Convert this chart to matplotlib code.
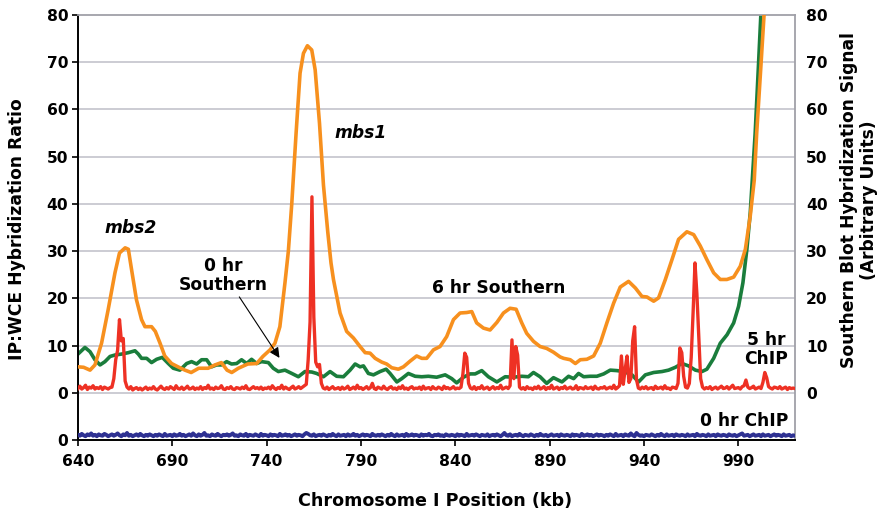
import numpy as np
import matplotlib
matplotlib.use('Agg')
import matplotlib.pyplot as plt

# x positions (kb)
orange_kb = [640, 643, 646.4, 649, 652.5, 656, 659.6, 662, 665, 666.7, 668.4, 671, 673.7,
             675.5, 679, 681, 683.5, 686, 689.6, 693, 696.7, 700, 704, 709, 712.6, 716, 719,
             721.5, 725, 730, 734.7, 738, 741.8, 744.4, 747, 749.7, 751.5, 753.3, 755.6, 757.7,
             759.5, 761.6, 763.9, 765.7, 768, 770.1, 772.4, 774.1, 775.4, 778.9, 782.4, 786,
             789.5, 792.2, 794.8, 797.5, 801, 803.6, 806.3, 809.8, 812.5, 816, 819.5, 822.2,
             824.8, 828.4, 831.9, 835.4, 839, 842.5, 846, 848.7, 851.3, 854.9, 858.4, 862,
             865.5, 869, 872.2, 875.2, 877.8, 881.4, 884.9, 888.4, 892, 895.5, 897.4, 900.9,
             903.6, 906.2, 909.7, 913.3, 916.8, 920.3, 923.9, 927.4, 931.8, 935.4, 938.9,
             941.5, 945.1, 947.7, 951.3, 954.8, 958.3, 962.7, 966.3, 969.8, 973.3, 976.9,
             980.4, 983.9, 987.5, 991, 993.7, 996.3, 998.4, 999.7, 1001.9, 1003.6, 1005.5]
orange_val = [5.5, 5.4, 4.8, 5.9, 10.5, 17.6, 25.4, 29.6, 30.7, 30.4, 26.1, 19.7, 15.5,
              14.0, 14.0, 13.0, 10.5, 7.8, 6.2, 5.5, 4.8, 4.3, 5.2, 5.2, 5.9, 6.4, 4.8,
              4.3, 5.2, 6.1, 6.2, 7.7, 9.1, 10.5, 14.0, 23.3, 30.0, 40.0, 55.0, 67.7,
              71.9, 73.5, 72.6, 68.4, 57.1, 44.0, 34.0, 27.5, 24.0, 16.9, 13.0, 11.6,
              9.8, 8.5, 8.4, 7.3, 6.5, 6.1, 5.3, 5.0, 5.5, 6.7, 7.8, 7.3,
              7.3, 9.1, 9.8, 11.9, 15.5, 16.9, 17.0, 17.2, 14.8, 13.7, 13.3, 14.9,
              16.9, 17.9, 17.7, 14.8, 12.6, 10.9, 9.8, 9.4, 8.6, 7.6, 7.3, 7.0,
              6.2, 7.0, 7.1, 7.8, 10.5, 14.8, 19.0, 22.4, 23.6, 22.2, 20.4,
              20.3, 19.4, 20.1, 24.0, 28.2, 32.5, 34.1, 33.5, 31.1, 28.2, 25.4,
              24.0, 24.0, 24.5, 26.8, 30.4, 37.5, 45.0, 55.0, 69.0, 80.0, 95.0]

green_kb = [640, 643.7, 646.4, 649, 651.7, 654.3, 657, 659.6, 663.1, 666.7, 670.2, 672, 673.7,
            676.4, 679, 681.7, 684.7, 687.9, 690.5, 694, 697.6, 700.2, 702.9, 705.5, 708.2,
            710.8, 713.5, 716.1, 718.8, 721.4, 724.1, 726.7, 729.4, 732, 734.7, 737.3, 740.9,
            743.5, 746.2, 749.7, 753.3, 756.8, 760.3, 763.9, 766.5, 770.1, 773.6, 777.1,
            780.7, 784.2, 786.9, 789.5, 791.3, 793.9, 796.6, 800.1, 803.3, 805.4, 809,
            811.6, 815.1, 818.7, 822.2, 825.7, 830.1, 834.6, 838.1, 840.7, 844.3, 847.8,
            850.5, 854, 857.5, 862, 866.4, 870.8, 875.2, 878.7, 881.4, 884.9, 888.4, 892,
            896.5, 900, 902.7, 905.3, 908, 911.5, 915, 918.6, 922.1, 925.6, 929.2, 933.6,
            937.1, 940.7, 945.1, 949.5, 953, 956.6, 960.1, 963.6, 967.2, 970.7, 973.3,
            976.9, 980.4, 984, 987.5, 990.1, 992.4, 994.5, 996.3, 998.9, 1000.6, 1001.9, 1003.5]
green_val = [8.2, 9.6, 8.7, 7.0, 5.9, 6.6, 7.7, 8.0, 8.2, 8.5, 8.9, 8.2, 7.3,
             7.3, 6.4, 7.1, 7.5, 6.2, 5.2, 4.8, 6.2, 6.6, 6.1, 7.0, 7.0,
             5.5, 5.9, 5.9, 6.6, 6.1, 6.2, 7.0, 6.2, 7.1, 6.2, 6.6, 6.4,
             5.2, 4.5, 4.8, 4.1, 3.4, 4.5, 4.4, 4.1, 3.4, 4.5, 3.5,
             3.4, 4.8, 6.1, 5.5, 5.7, 4.1, 3.8, 4.5, 5.0, 4.1, 2.3,
             3.0, 4.1, 3.5, 3.4, 3.5, 3.3, 3.8, 3.0, 2.1, 3.3, 4.0,
             4.0, 4.7, 3.4, 2.3, 3.4, 3.3, 3.5, 3.4, 4.3, 3.4, 2.0, 3.2,
             2.3, 3.5, 3.0, 4.1, 3.4, 3.5, 3.5, 4.0, 4.8, 4.7, 4.5, 3.8,
             2.3, 3.8, 4.3, 4.5, 4.8, 5.4, 6.2, 5.7, 4.8, 4.5, 5.0,
             7.3, 10.5, 12.3, 14.8, 18.3, 23.3, 30.4, 38.2, 55.0, 69.0, 80.0, 95.0]

# 5 hr ChIP, one value per kb from 640 to 1020
chip5 = [0.9, 1.4, 0.8, 1.1, 1.6, 0.7, 1.2, 1.0, 1.5, 0.8, 1.1, 0.9, 1.3, 0.7, 1.2, 1.0, 0.8, 1.1, 1.2, 3.0,
         7.0, 9.0, 15.5, 11.0, 11.5, 2.5, 1.2, 0.8, 1.3, 0.6, 0.9, 1.1, 0.7, 1.0, 0.6, 0.9, 1.2, 0.7, 1.0, 0.8,
         1.3, 0.8, 0.6, 1.0, 1.4, 0.9, 0.7, 1.1, 0.8, 1.3, 1.0, 0.7, 1.5, 0.9, 0.8, 1.2, 0.7, 1.0, 1.4, 0.8,
         0.9, 1.2, 0.7, 1.0, 0.8, 1.3, 0.7, 1.1, 0.9, 1.6, 0.8, 1.0, 0.7, 1.2, 0.9, 1.0, 1.5, 0.8, 0.7, 1.1,
         0.9, 1.3, 0.8, 0.7, 1.1, 1.0, 0.8, 1.2, 0.9, 1.5, 0.8, 0.7, 1.0, 1.3, 0.9, 1.1, 0.8, 1.2, 0.7, 1.0,
         0.9, 1.2, 0.8, 1.5, 1.0, 0.7, 1.1, 0.9, 1.6, 0.8, 1.2, 0.9, 0.7, 1.1, 1.4, 0.8, 1.0, 1.3, 0.9, 1.2,
         1.5, 1.8, 7.0, 15.0, 41.5, 16.0, 6.5, 5.5, 6.0, 2.0, 1.0, 0.8, 1.2, 0.7, 1.0, 1.3, 0.8, 0.9, 1.1, 0.7,
         1.2, 0.8, 1.0, 1.4, 0.7, 0.9, 1.2, 0.8, 1.6, 0.9, 1.1, 0.7, 1.0, 1.3, 0.8, 1.1, 2.0, 0.9, 0.7, 1.2,
         1.0, 0.8, 1.4, 0.9, 0.7, 1.1, 1.3, 0.8, 1.0, 0.7, 1.2, 0.9, 1.5, 0.8, 1.0, 0.7, 1.1, 1.3, 0.8, 1.0,
         0.9, 1.2, 0.7, 1.4, 0.8, 1.0, 1.1, 0.7, 1.3, 0.9, 0.8, 1.2, 1.0, 0.7, 1.4, 0.9, 1.1, 0.8, 1.0, 1.3,
         0.8, 1.0, 0.9, 1.2, 4.0, 8.4, 7.5, 2.0, 1.0, 0.8, 1.3, 0.7, 1.1, 0.9, 1.5, 0.8, 1.0, 1.2, 0.7, 1.0,
         1.3, 0.8, 1.1, 0.9, 1.6, 0.8, 1.0, 1.2, 0.9, 1.5, 11.2, 3.0, 9.8, 8.0, 1.2, 0.8, 1.1, 0.7, 1.3, 0.9,
         1.0, 0.7, 1.2, 0.9, 1.4, 0.8, 1.0, 1.3, 0.7, 1.1, 0.9, 1.6, 0.8, 1.0, 1.2, 0.7, 1.1, 0.9, 1.4, 0.8,
         1.0, 1.2, 0.8, 0.9, 1.5, 0.7, 1.1, 1.0, 0.8, 1.3, 0.9, 1.0, 1.2, 0.7, 1.4, 0.9, 0.8, 1.1, 1.0, 1.3,
         0.8, 1.0, 1.2, 0.9, 1.6, 0.8, 1.1, 1.5, 7.8, 1.8, 5.0, 7.8, 2.2, 3.0, 11.0, 14.0, 2.8, 1.0, 0.8, 1.2,
         0.9, 1.3, 0.8, 1.0, 1.1, 0.7, 1.4, 0.9, 1.0, 1.2, 0.8, 1.5, 0.9, 1.0, 0.7, 1.2, 1.1, 0.9, 2.0, 9.5,
         8.5, 3.5, 1.2, 1.0, 2.0, 7.5, 17.0, 27.5, 21.0, 12.0, 3.0, 1.2, 0.8, 1.1, 0.9, 1.3, 0.7, 1.0, 1.2, 0.8,
         1.1, 1.4, 0.9, 1.0, 1.3, 0.8, 1.2, 1.6, 0.9, 1.0, 1.1, 0.8, 1.3, 1.5, 2.7, 1.2, 0.9, 1.1, 1.4, 0.8,
         1.0, 1.2, 0.9, 2.2, 4.3, 3.2, 1.3, 1.0, 0.8, 1.2, 1.1, 0.9, 1.3, 0.8, 1.0, 1.2, 0.7, 1.1, 0.9, 1.0,
         0.9]

# 0 hr ChIP, same spacing, drawn on its own baseline below the others
chip0 = [1.1, 0.9, 1.3, 1.0, 0.8, 1.2, 1.0, 1.4, 0.9, 1.1, 0.8, 1.2, 1.0, 0.9, 1.3, 1.1, 0.8, 1.0, 1.2, 0.9,
         1.1, 1.4, 1.0, 0.8, 1.2, 1.0, 1.5, 0.9, 1.1, 0.8, 1.0, 1.2, 0.9, 1.3, 1.0, 0.8, 1.1, 0.9, 1.2, 1.0,
         0.8, 1.1, 0.9, 1.2, 1.0, 0.8, 1.3, 0.9, 1.0, 1.1, 0.8, 1.2, 0.9, 1.0, 1.3, 0.9, 1.1, 0.8, 1.0, 1.2,
         0.9, 1.4, 1.0, 0.8, 1.2, 0.9, 1.1, 1.5, 0.9, 1.0, 0.8, 1.2, 1.0, 0.9, 1.3, 1.0, 0.8, 1.1, 1.0, 1.2,
         0.9, 1.1, 1.4, 0.9, 1.0, 0.8, 1.2, 1.0, 0.9, 1.3, 0.8, 1.1, 1.0, 0.9, 1.2, 1.0, 0.8, 1.3, 0.9, 1.1,
         1.0, 0.8, 1.2, 0.9, 1.1, 1.0, 0.8, 1.3, 0.9, 1.0, 1.2, 0.9, 1.1, 0.8, 1.0, 1.2, 0.9, 1.1, 1.0, 0.8,
         1.2, 1.5, 1.3, 1.0, 0.9, 1.2, 0.8, 1.0, 1.1, 0.9, 1.2, 1.0, 0.8, 1.1, 0.9, 1.3, 1.0, 0.8, 1.2, 0.9,
         1.0, 1.1, 0.8, 1.2, 0.9, 1.0, 1.3, 0.9, 1.1, 0.8, 1.0, 1.2, 0.9, 1.1, 1.0, 0.8, 1.3, 1.0, 0.9, 1.1,
         0.9, 1.2, 1.0, 0.8, 1.1, 0.9, 1.3, 1.0, 0.8, 1.2, 0.9, 1.0, 1.1, 0.8, 1.3, 0.9, 1.0, 1.2, 0.9, 1.1,
         1.0, 0.8, 1.2, 0.9, 1.1, 1.0, 1.3, 0.9, 0.8, 1.1, 1.0, 1.2, 0.9, 1.0, 0.8, 1.2, 1.0, 0.9, 1.1, 1.0,
         0.8, 1.2, 0.9, 1.1, 1.0, 0.8, 1.3, 0.9, 1.0, 1.1, 0.9, 1.2, 1.0, 0.8, 1.1, 1.0, 0.9, 1.2, 0.8, 1.0,
         1.1, 0.9, 1.2, 1.0, 0.8, 1.1, 1.5, 1.0, 0.9, 1.2, 0.8, 1.0, 1.1, 0.9, 1.3, 1.0, 0.8, 1.1, 1.0, 0.9,
         1.2, 1.0, 0.8, 1.1, 0.9, 1.3, 1.0, 0.9, 1.1, 0.8, 1.0, 1.2, 0.9, 1.0, 1.1, 0.8, 1.2, 1.0, 0.9, 1.1,
         1.0, 0.8, 1.2, 0.9, 1.1, 1.0, 0.8, 1.3, 0.9, 1.0, 1.2, 0.9, 1.1, 0.8, 1.0, 1.2, 0.9, 1.1, 1.0, 0.8,
         1.1, 0.9, 1.2, 1.0, 0.8, 1.3, 0.9, 1.0, 1.1, 0.8, 1.2, 1.0, 0.9, 1.4, 1.0, 0.8, 1.5, 1.1, 0.9, 1.0,
         0.8, 1.1, 1.0, 0.9, 1.2, 1.0, 0.8, 1.1, 0.9, 1.3, 1.0, 0.8, 1.2, 0.9, 1.0, 1.1, 0.8, 1.2, 1.0, 0.9,
         1.1, 1.0, 0.8, 1.2, 0.9, 1.0, 1.1, 0.8, 1.3, 1.0, 0.9, 1.1, 1.0, 0.8, 1.2, 0.9, 1.0, 1.1, 0.8, 1.2,
         1.0, 0.9, 1.1, 1.0, 0.8, 1.2, 1.0, 0.9, 1.1, 0.8, 1.0, 1.2, 1.4, 0.9, 1.0, 1.1, 0.8, 1.0, 1.2, 0.9,
         1.0, 1.1, 0.8, 1.2, 0.9, 1.0, 1.1, 0.8, 1.0, 1.2, 0.9, 1.1, 1.0, 0.8, 1.2, 0.9, 1.0, 1.1, 0.8, 1.0,
         0.9]

chip_kb = np.arange(640, 640 + len(chip5))
chip0_offset = -10  # lower track sits one grid step under the main zero

x_ticks = [640, 690, 740, 790, 840, 890, 940, 990]
left_ticks = [-10, 0, 10, 20, 30, 40, 50, 60, 70, 80]
left_labels = ['0', '0', '10', '20', '30', '40', '50', '60', '70', '80']
right_ticks = [0, 10, 20, 30, 40, 50, 60, 70, 80]

ORANGE = '#F7901E'
GREEN = '#1A7D3C'
RED = '#EE3124'
NAVY = '#2E3192'

plt.rcParams['font.family'] = 'DejaVu Sans'
plt.rcParams['font.weight'] = 'bold'

fig = plt.figure(figsize=(8.8, 5.17), dpi=100)
ax = fig.add_axes([0.0886, 0.1489, 0.8148, 0.822])
ax.set_xlim(640, 1020)
ax.set_ylim(-10, 80)

for v in right_ticks[:-1]:
    ax.axhline(v, color='#C8C8D0', lw=1.3, zorder=0)

ax.plot(green_kb, green_val, color=GREEN, lw=2.6, solid_joinstyle='round', zorder=2)
ax.plot(orange_kb, orange_val, color=ORANGE, lw=2.6, solid_joinstyle='round', zorder=3)
ax.plot(chip_kb, chip5, color=RED, lw=2.4, solid_joinstyle='round', zorder=4)
ax.plot(chip_kb, np.array(chip0) + chip0_offset, color=NAVY, lw=2.8,
        solid_joinstyle='round', zorder=4)

ax.set_xticks(x_ticks)
ax.set_yticks(left_ticks)
ax.set_yticklabels(left_labels)
ax.tick_params(axis='both', labelsize=11.2, width=1.2, length=4, color='black')
ax.tick_params(axis='x', pad=6)
ax.tick_params(axis='y', pad=3)
for lab in ax.get_xticklabels() + ax.get_yticklabels():
    lab.set_fontweight('bold')

ax.spines['left'].set_color('black')
ax.spines['bottom'].set_color('black')
ax.spines['left'].set_linewidth(1.4)
ax.spines['bottom'].set_linewidth(1.4)
ax.spines['top'].set_color('#A0A0A8')
ax.spines['right'].set_color('#A0A0A8')
ax.spines['top'].set_linewidth(1.3)
ax.spines['right'].set_linewidth(1.3)

ax2 = ax.twinx()
ax2.set_ylim(-10, 80)
ax2.set_yticks(right_ticks)
ax2.tick_params(axis='y', length=0, pad=8, labelsize=11.2)
for lab in ax2.get_yticklabels():
    lab.set_fontweight('bold')
for s in ax2.spines.values():
    s.set_visible(False)

# annotations
ax.text(668.1, 34.8, 'mbs2', fontsize=12.3, style='italic', weight='bold', ha='center', va='center')
ax.text(790, 55, 'mbs1', fontsize=12.3, style='italic', weight='bold', ha='center', va='center')
ax.text(716.9, 24.8, '0 hr\nSouthern', fontsize=12.3, weight='bold', ha='center', va='center',
        linespacing=1.1)
ax.annotate('', xy=(747.6, 6.9), xytext=(724.7, 20.8),
            arrowprops=dict(arrowstyle='-|>', color='black', lw=0.8, mutation_scale=15))
ax.text(863.2, 22.3, '6 hr Southern', fontsize=12.3, weight='bold', ha='center', va='center')
ax.text(1004.8, 9.2, '5 hr\nChIP', fontsize=12.3, weight='bold', ha='center', va='center',
        linespacing=1.1)
ax.text(993.3, -6.0, '0 hr ChIP', fontsize=12.3, weight='bold', ha='center', va='center')

fig.text(0.494, 0.031, 'Chromosome I Position (kb)', fontsize=12.6, weight='bold',
         ha='center', va='center')
fig.text(0.019, 0.557, 'IP:WCE Hybridization Ratio', fontsize=12.3, weight='bold',
         rotation=90, ha='center', va='center')
fig.text(0.976, 0.613, 'Southern Blot Hybridization Signal\n(Arbitrary Units)', fontsize=12.3,
         weight='bold', rotation=90, ha='center', va='center', linespacing=1.1)

fig.savefig('out.png', dpi=100)
